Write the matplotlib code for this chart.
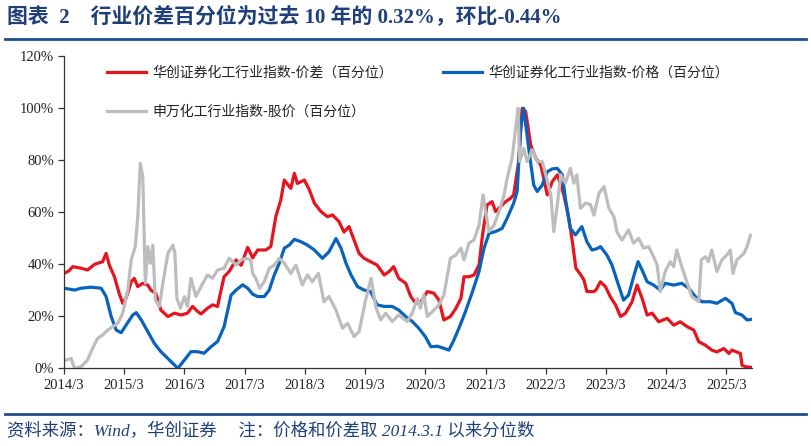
import matplotlib
matplotlib.use("Agg")
import matplotlib.pyplot as plt
from matplotlib.lines import Line2D
from matplotlib.ticker import FuncFormatter

# months counted from 2014/3
red_m = [0.0, 1.0, 1.75, 3.4, 4.7, 6.1, 7.7, 8.4, 9.05, 10.05, 11.0, 11.7, 12.4, 13.4, 14.0, 14.7,
         15.7, 16.7, 17.3, 18.3, 19.3, 20.7, 22.0, 23.3, 24.6, 25.6, 26.6, 27.3, 28.6, 29.6, 30.6,
         31.3, 31.9, 32.9, 34.3, 35.3, 36.6, 37.6, 38.6, 40.2, 41.2, 42.2, 43.2, 43.9, 45.2, 45.9,
         46.5, 47.9, 48.9, 49.9, 51.2, 52.5, 53.5, 54.8, 55.8, 56.8, 57.8, 58.8, 59.8, 61.1, 62.4,
         63.8, 64.8, 65.7, 66.7, 68.1, 69.1, 70.1, 71.1, 72.4, 73.7, 74.7, 75.7, 77.0, 78.1, 79.1,
         79.7, 80.7, 81.7, 82.7, 83.4, 84.3, 85.3, 86.0, 87.0, 88.0, 89.0, 89.6, 90.6, 91.3, 92.0,
         93.0, 94.0, 95.0, 95.6, 96.3, 97.3, 98.3, 99.0, 99.6, 100.6, 101.3, 102.0, 103.0, 103.6,
         104.2, 105.0, 105.6, 106.0, 106.9, 107.9, 108.9, 109.9, 110.9, 111.9, 113.2, 114.2, 115.2,
         116.2, 117.2, 118.5, 120.2, 121.5, 122.8, 124.2, 125.5, 126.5, 127.8, 129.1, 130.1, 131.5,
         132.5, 133.1, 134.8, 135.1, 135.8, 136.8]
red_v = [36.5, 37.5, 39.1, 38.5, 37.8, 40.0, 41.0, 44.2, 39.6, 35.2, 28.8, 25.0, 27.2, 33.3, 34.6, 31.4,
         32.7, 32.0, 30.1, 28.8, 22.4, 19.9, 21.2, 20.5, 21.2, 23.8, 21.9, 20.9, 23.1, 24.4, 23.8,
         30.1, 35.2, 37.2, 41.7, 39.6, 46.5, 42.5, 45.5, 45.5, 46.8, 58.3, 64.7, 72.4, 69.2, 75.0,
         71.1, 72.4, 68.6, 63.5, 60.3, 58.3, 59.0, 56.4, 52.4, 54.5, 49.3, 44.2, 42.3, 41.0, 39.7,
         35.9, 37.2, 39.1, 34.6, 32.7, 27.6, 25.0, 25.6, 29.5, 28.9, 26.3, 18.6, 19.9, 23.1, 26.9,
         35.2, 35.2, 35.9, 39.7, 51.3, 62.8, 64.1, 60.3, 62.2, 64.1, 65.4, 66.7, 79.5, 100.0, 98.7,
         85.9, 80.8, 78.2, 73.1, 66.7, 71.8, 74.4, 70.5, 66.7, 57.7, 48.7, 38.5, 35.9, 34.0,
         29.5, 29.5, 29.5, 30.1, 33.3, 31.4, 27.4, 24.4, 19.9, 21.2, 25.6, 32.0, 26.9,
         20.5, 21.2, 17.9, 19.2, 16.6, 17.9, 16.0, 14.7, 10.2, 8.9, 7.0, 6.3, 7.6,
         5.7, 7.0, 5.7, 1.2, 0.6, 0.4]

blue_m = [0.0, 2.1, 3.4, 5.4, 7.4, 8.4, 9.4, 10.4, 11.4, 12.4, 13.7, 14.4, 15.4, 16.7, 18.0, 19.3,
          21.0, 22.7, 24.0, 25.3, 26.6, 27.9, 29.3, 30.6, 31.9, 33.3, 34.3, 35.6, 36.6, 37.6, 38.6,
          39.9, 40.9, 41.9, 42.9, 43.9, 44.9, 45.9, 47.2, 48.5, 49.9, 51.5, 52.8, 54.2, 55.2, 56.2,
          57.2, 58.5, 59.8, 61.1, 62.4, 63.8, 65.4, 66.7, 68.1, 69.4, 70.7, 72.0, 73.1, 74.4, 75.7,
          76.7, 77.7, 78.7, 80.0, 81.4, 82.7, 83.7, 84.7, 86.0, 87.3, 88.3, 89.6, 90.3, 91.0, 91.6,
          92.6, 93.6, 94.3, 95.3, 96.3, 97.3, 98.3, 99.3, 99.9, 100.9, 101.9, 103.2, 104.2, 105.2,
          106.2, 106.9, 108.2, 109.2, 110.5, 111.5, 112.5, 113.5, 114.4, 115.2, 116.2, 117.5, 118.8,
          119.8, 121.5, 123.1, 124.5, 125.8, 127.1, 128.8, 130.1, 131.8, 133.1, 133.8, 135.1, 136.1,
          136.8]
blue_v = [30.8, 30.1, 30.8, 31.2, 30.8, 27.6, 19.9, 14.7, 13.7, 16.7, 20.5, 21.4, 18.6, 14.1, 9.6, 6.4,
          3.2, 0.0, 3.2, 6.4, 6.4, 5.8, 8.3, 10.3, 16.0, 28.2, 30.1, 32.1, 30.8, 28.5, 27.6,
          27.6, 30.1, 35.9, 40.4, 46.2, 47.4, 49.6, 48.7, 47.4, 45.5, 42.3, 44.8, 49.9, 46.2, 40.4,
          35.9, 31.4, 30.1, 29.5, 24.4, 23.8, 23.8, 22.4, 19.9, 18.0, 15.4, 12.2, 8.3, 8.5, 7.7,
          7.0, 10.9, 15.4, 21.8, 29.5, 37.2, 46.2, 51.9, 52.6, 53.8, 57.7, 63.5, 68.0, 92.3, 100.0,
          84.6, 70.5, 68.0, 70.5, 75.6, 76.7, 76.9, 74.4, 65.4, 53.8, 51.3, 54.5, 48.7, 45.5,
          46.0, 46.8, 43.5, 39.7, 32.0, 26.2, 28.2, 35.2, 41.0, 37.8, 33.3, 32.0, 30.1,
          32.7, 32.0, 32.7, 30.8, 27.6, 25.6, 25.6, 25.0, 26.9, 25.0, 21.4, 20.5, 18.6,
          18.8]

gray_m = [0.0, 1.4, 2.1, 3.4, 4.7, 5.7, 6.7, 7.7, 8.7, 9.7, 10.7, 11.7, 12.7, 13.4, 14.2, 14.7,
          15.2, 15.7, 16.2, 16.7, 17.2, 17.7, 18.2, 19.0, 19.7, 20.7, 21.7, 22.1, 22.5, 23.2, 24.0,
          24.6, 25.3, 26.3, 27.3, 28.6, 29.6, 30.6, 31.9, 32.9, 34.3, 35.3, 36.3, 37.2, 37.6, 38.2,
          39.0, 39.9, 40.9, 41.9, 42.9, 43.9, 45.2, 46.2, 47.5, 48.5, 49.5, 50.7, 51.8, 52.8, 54.2,
          55.5, 56.5, 57.8, 58.8, 60.1, 61.2, 62.1, 63.1, 64.1, 65.4, 66.7, 68.4, 69.4, 70.4, 71.0,
          71.7, 72.4, 73.4, 74.7, 75.7, 76.4, 77.0, 78.1, 79.1, 79.7, 80.7, 81.7, 82.7, 83.5, 84.0,
          84.7, 85.7, 86.7, 87.7, 88.3, 89.3, 90.0, 90.5, 90.8, 91.6, 92.3, 93.3, 94.3, 95.3, 96.0,
          97.0, 97.6, 98.3, 99.0, 99.9, 100.9, 101.6, 102.2, 102.9, 103.9, 104.9, 105.6, 106.6,
          107.6, 108.6, 109.6, 110.2, 111.2, 112.5, 113.5, 114.5, 115.5, 116.5, 117.5, 118.2, 118.8,
          119.8, 120.8, 121.5, 122.1, 123.1, 124.1, 125.1, 126.5, 127.0, 127.8, 128.4, 129.1, 130.1,
          131.1, 132.1, 132.8, 133.3, 134.1, 135.5, 136.1, 136.8]
gray_v = [2.9, 3.8, 0.0, 0.6, 3.2, 7.7, 11.5, 12.8, 14.7, 16.0, 17.3, 21.2, 30.1, 41.7, 46.8, 58.3,
          78.8, 73.7, 32.7, 46.8, 40.4, 47.4, 26.3, 23.8, 32.7, 44.2, 47.4, 44.2, 26.9, 23.1, 27.6,
          23.8, 34.6, 27.6, 31.4, 35.9, 34.6, 37.8, 38.5, 42.3, 39.7, 41.7, 42.3, 41.7, 36.5, 34.6,
          30.8, 33.3, 38.5, 39.7, 42.3, 40.4, 36.5, 39.7, 32.1, 35.9, 33.3, 36.5, 25.6, 27.6, 22.4,
          15.4, 17.3, 12.2, 14.1, 26.3, 34.6, 23.8, 18.6, 21.2, 18.0, 20.5, 18.0, 21.2, 26.9, 23.1,
          28.2, 19.9, 21.8, 24.4, 28.2, 35.9, 42.3, 43.6, 46.2, 41.7, 48.1, 49.4, 55.1, 66.7, 60.3,
          52.6, 55.1, 60.3, 66.7, 73.1, 80.8, 92.3, 100.0, 79.5, 84.6, 79.5, 84.0, 79.5, 79.5, 74.4,
          66.7, 52.6, 62.8, 74.4, 71.2, 76.9, 71.2, 74.4, 61.5, 63.5, 63.0, 58.9, 67.3,
          69.9, 61.5, 58.3, 52.4, 49.3, 53.2, 48.1, 50.0, 46.2, 46.8, 42.9, 39.7, 29.5,
          37.2, 41.0, 39.1, 45.5, 39.1, 33.3, 27.6, 25.6, 41.7, 42.9, 41.0, 45.5, 37.2,
          41.7, 43.6, 45.5, 36.5, 41.7, 44.2, 46.8, 51.2]

tick_months = list(range(0, 133, 12))
tick_labels = [f"{y}/3" for y in range(2014, 2026)]

label_red = "华创证券化工行业指数-价差（百分位）"
label_blue = "华创证券化工行业指数-价格（百分位）"
label_gray = "申万化工行业指数-股价（百分位）"

title = "图表  2    行业价差百分位为过去 10 年的 0.32%，环比-0.44%"
source = "资料来源：Wind，华创证券     注：价格和价差取 2014.3.1 以来分位数"

RED = "#E5141E"
BLUE = "#0863BE"
GRAY = "#BDBDBD"
NAVY = "#1F3F7A"
serif_cjk = ["Liberation Serif", "Noto Sans CJK SC"]

fig = plt.figure(figsize=(8.11, 4.46), dpi=100)
ax = fig.add_axes([64 / 811, 1 - 368.3 / 446, 688 / 811, 312 / 446])

ax.plot(red_m, red_v, color=RED, lw=2.3, label=label_red)
ax.plot(blue_m, blue_v, color=BLUE, lw=2.3, label=label_blue)
ax.plot(gray_m, gray_v, color=GRAY, lw=2.3, label=label_gray)

ax.set_xlim(0, 137.1)
ax.set_ylim(0, 120)
ax.set_yticks(range(0, 121, 20))
ax.yaxis.set_major_formatter(FuncFormatter(lambda v, p: f"{v:.0f}%"))
ax.set_xticks(tick_months)
ax.set_xticklabels(tick_labels)
for s in ["top", "right"]:
    ax.spines[s].set_visible(False)
for s in ["left", "bottom"]:
    ax.spines[s].set_color("#333333")
    ax.spines[s].set_linewidth(0.9)
ax.tick_params(direction="out", length=4, width=0.9, color="#333333",
               labelsize=10.5, labelcolor="#222222")
ax.tick_params(axis="y", pad=3)
ax.tick_params(axis="x", pad=4)
for lab in ax.get_xticklabels() + ax.get_yticklabels():
    lab.set_family("Liberation Serif")

h = ax.get_lines()
leg = ax.legend([h[0], h[2], h[1]], [label_red, label_gray, label_blue], ncol=2,
                frameon=False, loc="upper left", bbox_to_anchor=(107 / 811, 1 - 66 / 446),
                bbox_transform=fig.transFigure, borderpad=0, borderaxespad=0,
                handlelength=2.8, handletextpad=0.45, columnspacing=3.6, labelspacing=1.76,
                prop={"family": "Noto Sans CJK SC", "size": 10})
for t in leg.get_texts():
    t.set_color("#222222")

fig.text(7 / 811, 1 - 17 / 446, title, family=serif_cjk, fontsize=15, fontweight="bold",
         color=NAVY, va="center", ha="left")
fig.add_artist(Line2D([5 / 811, 806 / 811], [1 - 39 / 446, 1 - 39 / 446], color="#1F4E8C", lw=2))
fig.add_artist(Line2D([5 / 811, 806 / 811], [1 - 414 / 446, 1 - 414 / 446], color="#1F4E8C", lw=2))
fig.text(7 / 811, 1 - 432 / 446, source, family=serif_cjk, fontsize=12.5, style="italic",
         color=NAVY, va="center", ha="left")

fig.savefig("out.png", dpi=100)
